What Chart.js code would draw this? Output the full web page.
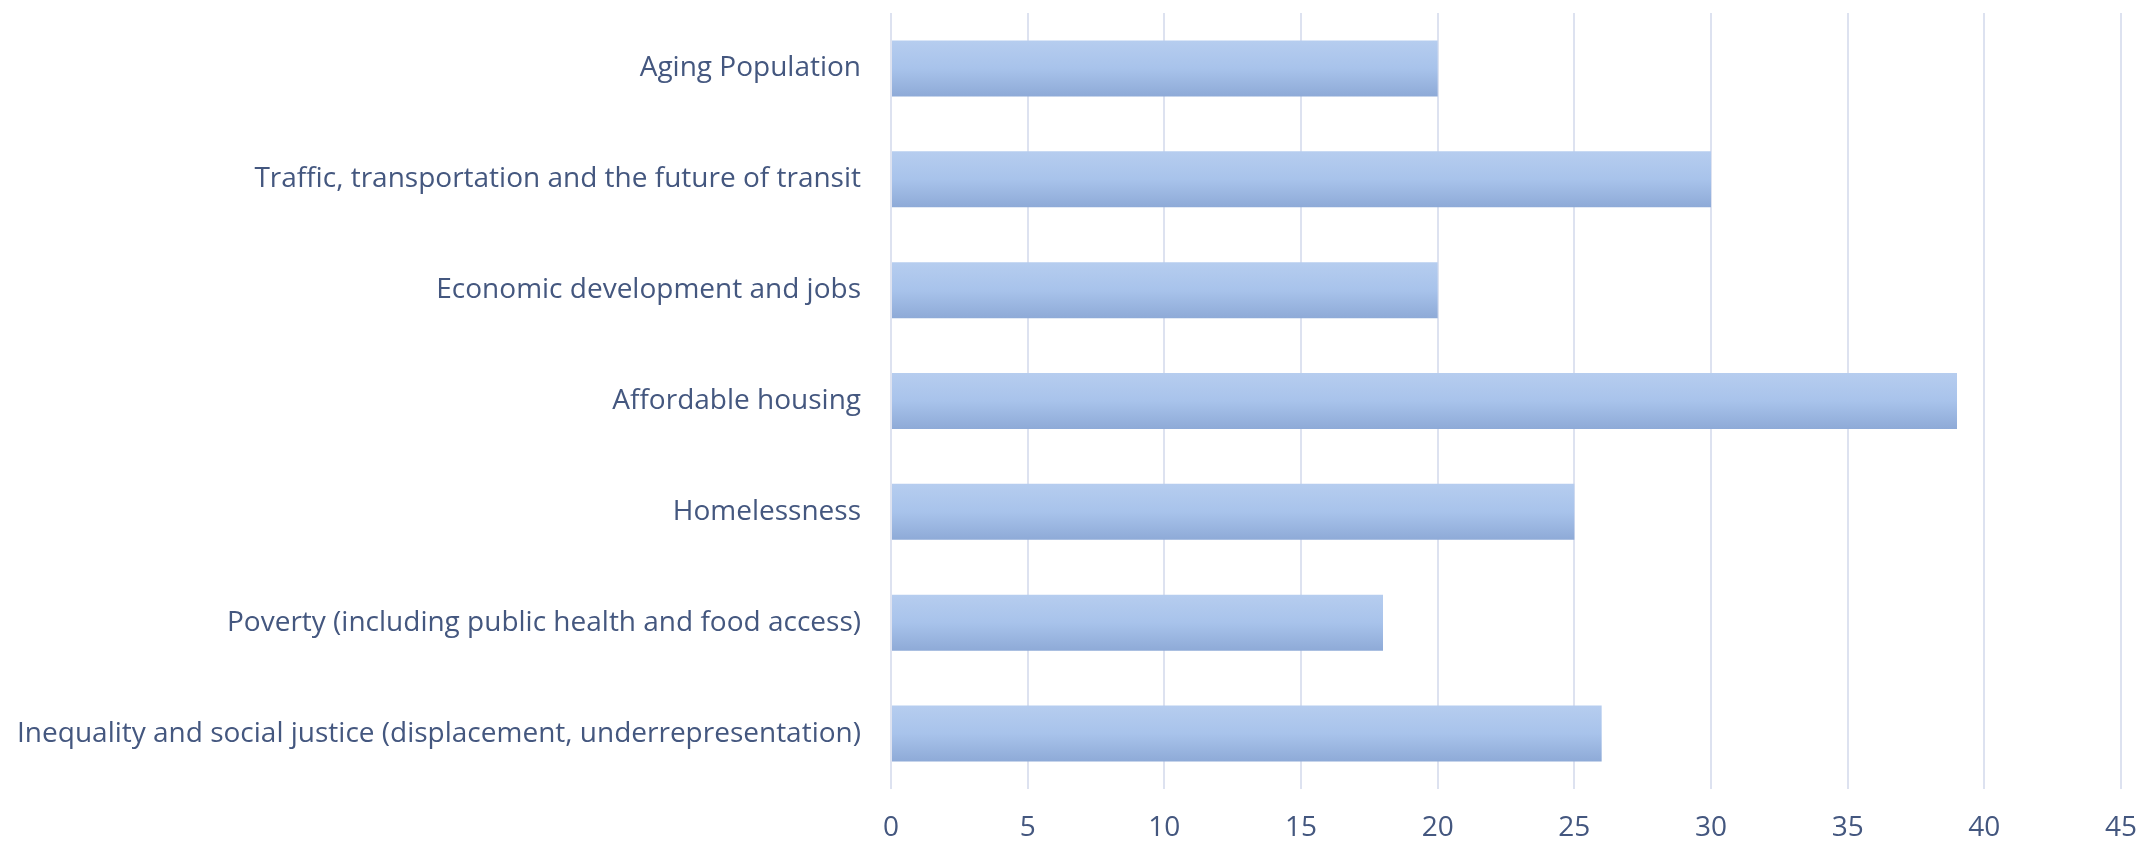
<!DOCTYPE html>
<html>
<head>
<meta charset="utf-8">
<script src="https://cdn.jsdelivr.net/npm/chart.js@4.4.1/dist/chart.umd.min.js"></script>
<style>
  html, body { margin: 0; padding: 0; background: #ffffff; }
  #wrap { width: 2143px; height: 844px; position: relative; }
</style>
</head>
<body>
<div id="wrap"><canvas id="c" width="2143" height="844"></canvas></div>
<script>
const categories = [
  "Aging Population",
  "Traffic, transportation and the future of transit",
  "Economic development and jobs",
  "Affordable housing",
  "Homelessness",
  "Poverty (including public health and food access)",
  "Inequality and social justice (displacement, underrepresentation)"
];
const values = [20, 30, 20, 39, 25, 18, 26];
const xMin = 0, xMax = 45, xStep = 5;

const TEXT = '#44577f';
const GRID = '#dde2f0';
const FONT = "'Open Sans', sans-serif";
const BAR_PCT = 0.505;

function barFill(ctx) {
  const chart = ctx.chart;
  const ys = chart.scales && chart.scales.y;
  if (!ys || ctx.dataIndex === undefined) return '#a9c4ec';
  const c = ys.getPixelForValue(ctx.dataIndex);
  const h = (ys.height / categories.length) * BAR_PCT;
  if (!isFinite(c) || !isFinite(h) || h <= 0) return '#a9c4ec';
  const g = chart.ctx.createLinearGradient(0, c - h / 2, 0, c + h / 2);
  g.addColorStop(0, '#b6cdef');
  g.addColorStop(0.5, '#a8c3eb');
  g.addColorStop(1, '#8eaad7');
  return g;
}

new Chart(document.getElementById('c'), {
  type: 'bar',
  data: {
    labels: categories,
    datasets: [{
      data: values,
      backgroundColor: barFill,
      borderWidth: 0,
      categoryPercentage: 1.0,
      barPercentage: BAR_PCT
    }]
  },
  options: {
    indexAxis: 'y',
    responsive: false,
    animation: false,
    devicePixelRatio: 1,
    layout: { padding: { top: 13, right: 22, bottom: 0, left: 0 } },
    plugins: { legend: { display: false }, tooltip: { enabled: false } },
    scales: {
      x: {
        min: xMin, max: xMax,
        ticks: { stepSize: xStep, color: TEXT, font: { family: FONT, size: 28 }, padding: 22 },
        grid: { color: GRID, lineWidth: 2, drawTicks: false },
        border: { display: false },
        afterFit: (s) => { s.height = 55; s.paddingLeft = 0; s.paddingRight = 0; }
      },
      y: {
        ticks: { color: TEXT, font: { family: FONT, size: 28 }, padding: 30 },
        grid: { display: false, drawTicks: false },
        border: { display: false },
        afterFit: (s) => { s.width = 891; s.paddingTop = 0; s.paddingBottom = 0; }
      }
    }
  }
});
</script>
</body>
</html>
